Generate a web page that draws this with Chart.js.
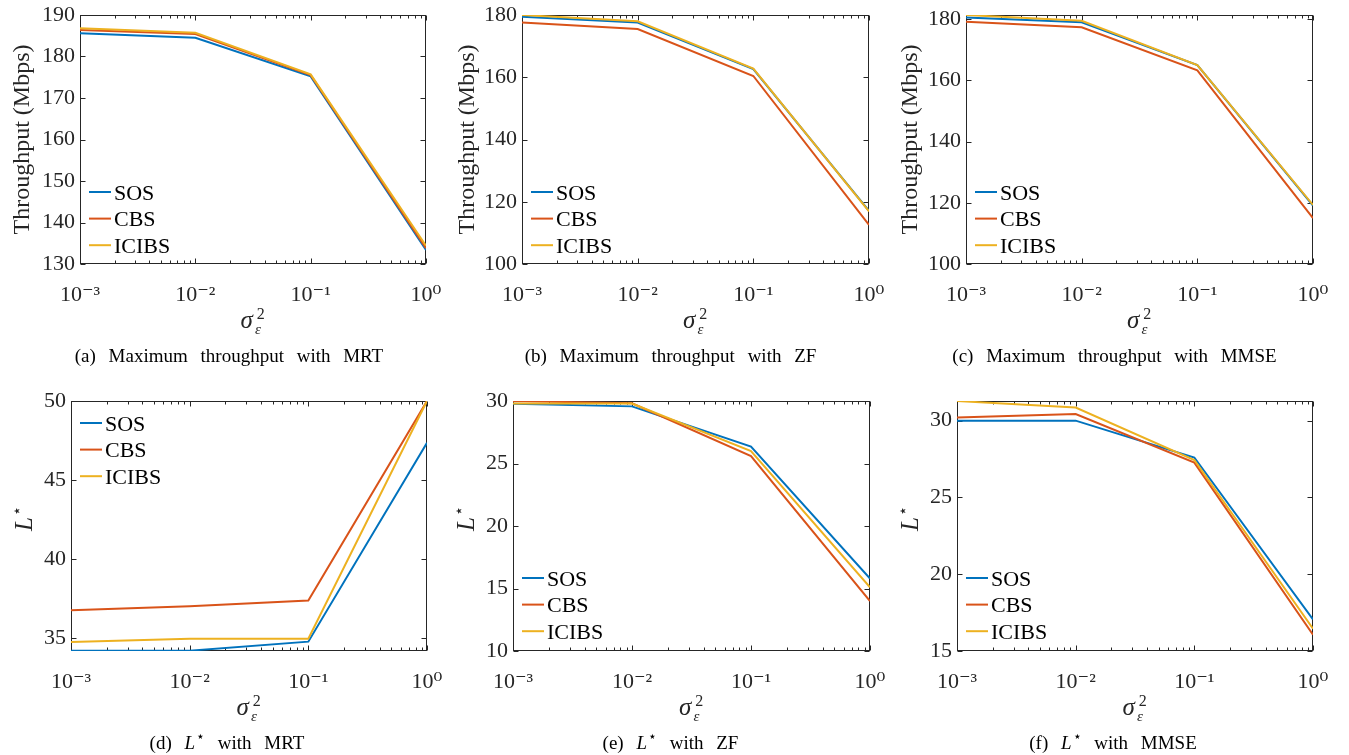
<!DOCTYPE html>
<html><head><meta charset="utf-8">
<script src="https://cdn.jsdelivr.net/npm/chart.js@4.4.1/dist/chart.umd.min.js"></script>
<style>
html,body{margin:0;padding:0;background:#fff;width:1349px;height:755px;overflow:hidden;position:relative}
.panel{position:absolute}
</style></head><body>
<script>
// ---------- data ----------
const xValues = [0.001, 0.01, 0.1, 1];
const xTickLabels = ['10⁻³', '10⁻²', '10⁻¹', '10⁰'];
const seriesNames = ['SOS', 'CBS', 'ICIBS'];

// (a) Maximum throughput with MRT (Mbps)
const mrtRateSOS   = [185.6, 184.5, 175.2, 133.4];
const mrtRateCBS   = [186.4, 185.4, 175.5, 133.8];
const mrtRateICIBS = [186.8, 185.7, 175.7, 134.4];
// (b) Maximum throughput with ZF (Mbps)
const zfRateSOS   = [179.4, 177.6, 162.6, 117.1];
const zfRateCBS   = [177.6, 175.5, 160.4, 112.6];
const zfRateICIBS = [180.0, 178.0, 162.8, 116.9];
// (c) Maximum throughput with MMSE (Mbps)
const mmseRateSOS   = [180.6, 179.0, 165.0, 119.1];
const mmseRateCBS   = [179.2, 177.4, 163.3, 115.0];
const mmseRateICIBS = [181.4, 179.5, 165.0, 119.3];
// (d) L* with MRT
const mrtLSOS   = [34.22, 34.22, 34.79, 47.36];
const mrtLCBS   = [36.77, 37.03, 37.39, 50.0];
const mrtLICIBS = [34.77, 34.98, 34.98, 50.0];
// (e) L* with ZF
const zfLSOS   = [29.79, 29.57, 26.36, 15.8];
const zfLCBS   = [30.0, 29.82, 25.6, 14.0];
const zfLICIBS = [29.8, 29.8, 26.0, 15.1];
// (f) L* with MMSE
const mmseLSOS   = [30.0, 30.0, 27.6, 17.06];
const mmseLCBS   = [30.2, 30.43, 27.27, 16.06];
const mmseLICIBS = [31.28, 30.85, 27.44, 16.45];

// y axis ranges and tick labels
const rateTicksA = [130, 140, 150, 160, 170, 180, 190];
const rateTicksBC = [100, 120, 140, 160, 180];
const lTicksD = [35, 40, 45, 50];
const lTicksE = [10, 15, 20, 25, 30];
const lTicksF = [15, 20, 25, 30];
const yMins = [130, 100, 100, 34.2, 10, 15];
const yMaxs = [190, 180, 181.4, 50, 30, 31.28];

const yTitles = ['Throughput (Mbps)', 'Throughput (Mbps)', 'Throughput (Mbps)', 'L⋆', 'L⋆', 'L⋆'];
const captions = [
  '(a) Maximum throughput with MRT',
  '(b) Maximum throughput with ZF',
  '(c) Maximum throughput with MMSE',
  '(d) L⋆ with MRT',
  '(e) L⋆ with ZF',
  '(f) L⋆ with MMSE'
];

// ---------- style ----------
const FONT = "'Liberation Serif', 'DejaVu Serif', serif";
const seriesColors = ['#0072BD', '#D95319', '#EDB120'];
const AXIS = '#262626';
Chart.defaults.font.family = FONT;

// panel geometry: container left, container bottom, plot-area left/right/top/bottom (page px)
const PAD_TOP = 20, PAD_RIGHT = 40, X_AXIS_H = 50;
const panels = [
  {cl: 0,   cb: 375, L: 80,  R: 426,  T: 15,  B: 264, legendTop: 177, capShift: -24, series: [mrtRateSOS, mrtRateCBS, mrtRateICIBS], ticks: rateTicksA},
  {cl: 445, cb: 375, L: 522, R: 869,  T: 15,  B: 264, legendTop: 177, capShift: -25, series: [zfRateSOS, zfRateCBS, zfRateICIBS], ticks: rateTicksBC},
  {cl: 888, cb: 375, L: 966, R: 1313, T: 15,  B: 264, legendTop: 177, capShift: -25, series: [mmseRateSOS, mmseRateCBS, mmseRateICIBS], ticks: rateTicksBC},
  {cl: 0,   cb: 755, L: 71,  R: 427,  T: 401, B: 651, legendTop: 22,  capShift: -22, series: [mrtLSOS, mrtLCBS, mrtLICIBS], ticks: lTicksD},
  {cl: 445, cb: 755, L: 513, R: 870,  T: 401, B: 651, legendTop: 177, capShift: -21, series: [zfLSOS, zfLCBS, zfLICIBS], ticks: lTicksE},
  {cl: 888, cb: 755, L: 957, R: 1313, T: 401, B: 651, legendTop: 177, capShift: -22, series: [mmseLSOS, mmseLCBS, mmseLICIBS], ticks: lTicksF}
];

function drawRich(ctx, text, cx, baseline, size, extraGap) {
  const words = text.split(' ');
  const segs = words.map(w => {
    if (w === 'L⋆') return [{t: 'L', f: `italic ${size}px ${FONT}`, dy: 0, dx: 0}, {t: '⋆', f: `${Math.round(size * 0.72)}px ${FONT}`, dy: -size * 0.4, dx: 1}];
    return [{t: w, f: `${size}px ${FONT}`, dy: 0, dx: 0}];
  });
  ctx.font = `${size}px ${FONT}`;
  const gap = ctx.measureText(' ').width + extraGap;
  let total = 0;
  segs.forEach((ws, i) => { ws.forEach(s => { ctx.font = s.f; s.w = ctx.measureText(s.t).width; total += s.w + s.dx; }); if (i) total += gap; });
  let x = cx - total / 2;
  ctx.textAlign = 'left'; ctx.textBaseline = 'alphabetic';
  segs.forEach((ws, i) => {
    if (i) x += gap;
    ws.forEach(s => { x += s.dx; ctx.font = s.f; ctx.fillText(s.t, x, baseline + s.dy); x += s.w; });
  });
}

const matlabPlugin = {
  id: 'matlab',
  beforeDatasetsDraw(chart) {
    const {ctx, chartArea: a, scales: {x, y}} = chart;
    ctx.save();
    ctx.strokeStyle = AXIS; ctx.lineWidth = 1;
    const L = Math.round(a.left) + 0.5, R = Math.round(a.right) - 0.5, T = Math.round(a.top) + 0.5, B = Math.round(a.bottom) - 0.5;
    ctx.strokeRect(L, T, R - L, B - T);
    ctx.beginPath();
    for (let e = -3; e <= 0; e++) {
      for (let m = 1; m <= 9; m++) {
        const v = m * Math.pow(10, e);
        if (v > 1.0000001) break;
        const px = Math.round(x.getPixelForValue(v)) + 0.5;
        const len = m === 1 ? 5 : 3;
        ctx.moveTo(px, B); ctx.lineTo(px, B - len);
        ctx.moveTo(px, T); ctx.lineTo(px, T + len);
      }
    }
    y.ticks.forEach(t => {
      const py = Math.round(y.getPixelForValue(t.value)) + 0.5;
      ctx.moveTo(L, py); ctx.lineTo(L + 5, py);
      ctx.moveTo(R, py); ctx.lineTo(R - 5, py);
    });
    ctx.stroke();
    ctx.restore();
  },
  afterDraw(chart, args, opts) {
    const {ctx, chartArea: a} = chart;
    ctx.save();
    // legend (inside axes, no box)
    chart.data.datasets.forEach((ds, i) => {
      const yy = a.top + opts.legendTop + i * 26.6;
      ctx.strokeStyle = ds.borderColor; ctx.lineWidth = 2;
      ctx.beginPath(); ctx.moveTo(a.left + 9, yy); ctx.lineTo(a.left + 31, yy); ctx.stroke();
      ctx.fillStyle = '#000'; ctx.font = `22px ${FONT}`;
      ctx.textAlign = 'left'; ctx.textBaseline = 'alphabetic';
      ctx.fillText(ds.label, a.left + 34, yy + 7.6);
    });
    const cx = (a.left + a.right) / 2;
    // x title: sigma_epsilon^2
    ctx.fillStyle = AXIS;
    ctx.font = `italic 25px ${FONT}`;
    ctx.fillText('σ', cx - 12.5, a.bottom + 63.5);
    ctx.font = `16px ${FONT}`;
    ctx.fillText('2', cx + 3.7, a.bottom + 54.5);
    ctx.font = `italic 15px ${FONT}`;
    ctx.fillText('ε', cx + 2, a.bottom + 69.5);
    // L* y title
    if (opts.yTitle === 'L⋆') {
      ctx.save();
      ctx.translate(a.left - 39, (a.top + a.bottom) / 2 - 7.5);
      ctx.rotate(-Math.PI / 2);
      ctx.font = `italic 25px ${FONT}`;
      const wL = ctx.measureText('L').width;
      ctx.font = `16px ${FONT}`;
      const wS = ctx.measureText('⋆').width;
      const x0 = -(wL + wS + 1) / 2;
      ctx.font = `italic 25px ${FONT}`;
      ctx.fillText('L', x0, 0);
      ctx.font = `16px ${FONT}`;
      ctx.fillText('⋆', x0 + wL + 1, -10);
      ctx.restore();
    }
    // caption
    ctx.fillStyle = '#000';
    drawRich(ctx, opts.caption, cx + opts.capShift, a.bottom + 97.5, 19, 8);
    ctx.restore();
  }
};

panels.forEach((p, k) => {
  const div = document.createElement('div');
  div.className = 'panel';
  const ct = p.T - PAD_TOP;
  const w = p.R - p.cl + PAD_RIGHT;
  const h = p.cb - ct;
  div.style.left = p.cl + 'px'; div.style.top = ct + 'px';
  div.style.width = w + 'px'; div.style.height = h + 'px';
  const cv = document.createElement('canvas');
  div.appendChild(cv);
  document.body.appendChild(div);
  const yWidth = p.L - p.cl;
  const padBottom = p.cb - p.B - X_AXIS_H;
  const isRate = k < 3;
  new Chart(cv, {
    type: 'line',
    data: {
      datasets: seriesNames.map((n, i) => ({
        label: n,
        data: xValues.map((xv, j) => ({x: xv, y: p.series[i][j]})),
        borderColor: seriesColors[i],
        backgroundColor: seriesColors[i],
        borderWidth: 2,
        pointRadius: 0,
        tension: 0,
        fill: false,
        order: 3 - i
      }))
    },
    options: {
      responsive: true,
      maintainAspectRatio: false,
      animation: false,
      events: [],
      layout: {padding: {left: 0, top: PAD_TOP, right: PAD_RIGHT, bottom: padBottom}},
      plugins: {
        legend: {display: false},
        tooltip: {enabled: false},
        matlab: {legendTop: p.legendTop, capShift: p.capShift, caption: captions[k], yTitle: yTitles[k]}
      },
      scales: {
        x: {
          type: 'logarithmic', position: 'bottom', min: 0.001, max: 1,
          afterBuildTicks: s => { s.ticks = xValues.map(v => ({value: v})); },
          afterFit: s => { s.height = X_AXIS_H; },
          ticks: {callback: (v, i) => xTickLabels[i], font: {size: 22}, color: AXIS, padding: 18.5, maxRotation: 0, autoSkip: false},
          grid: {display: false, drawTicks: false, tickLength: 0},
          border: {display: false}
        },
        y: {
          type: 'linear', position: 'left', min: yMins[k], max: yMaxs[k],
          afterBuildTicks: s => { s.ticks = p.ticks.map(v => ({value: v})); },
          afterFit: s => { s.width = yWidth; },
          ticks: {font: {size: 22}, color: AXIS, padding: 5},
          grid: {display: false, drawTicks: false, tickLength: 0},
          border: {display: false},
          title: {display: isRate, text: yTitles[k], font: {size: 24}, color: AXIS, padding: {top: 8, bottom: 0}}
        }
      }
    },
    plugins: [matlabPlugin]
  });
});
</script>
</body></html>
